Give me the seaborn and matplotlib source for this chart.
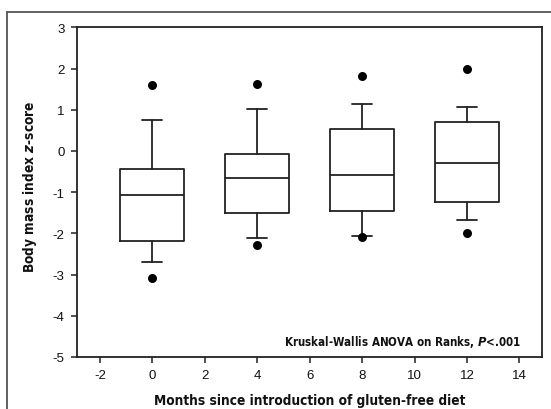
import matplotlib
matplotlib.use("Agg")
import matplotlib.pyplot as plt
from matplotlib.lines import Line2D
from matplotlib import font_manager
from matplotlib.font_manager import FontProperties
import seaborn as sns
import pandas as pd

# ---- data ----
months = [0, 4, 8, 12]
whisker_low = [-2.70, -2.12, -2.06, -1.68]
q1 = [-2.19, -1.51, -1.45, -1.25]
median = [-1.07, -0.66, -0.585, -0.30]
q3 = [-0.447, -0.075, 0.53, 0.70]
whisker_high = [0.757, 1.02, 1.13, 1.07]
outlier_low = [-3.085, -2.28, -2.08, -1.99]
outlier_high = [1.60, 1.62, 1.83, 2.00]

x_ticks = [-2, 0, 2, 4, 6, 8, 10, 12, 14]
y_ticks = [-5, -4, -3, -2, -1, 0, 1, 2, 3]

sns.set_style("white")
plt.rcParams["font.family"] = ["Liberation Sans", "DejaVu Sans"]
plt.rcParams["mathtext.fontset"] = "custom"
plt.rcParams["mathtext.bfit"] = "DejaVu Sans:italic:bold"
plt.rcParams["mathtext.it"] = "DejaVu Sans:italic:bold"
plt.rcParams["mathtext.rm"] = "DejaVu Sans:bold"

files = [f.fname for f in font_manager.fontManager.ttflist]


def pick(keys, italic):
    out = []
    for fn in files:
        low = fn.lower().replace("-", "").replace("_", "")
        if all(k in low for k in keys) and (("italic" in low or "oblique" in low) == italic):
            out.append(fn)
    return sorted(out)[0] if out else None


cond = pick(["liberationsansnarrow", "bold"], False) or pick(["condensed", "bold"], False)
if cond:
    lab_fp = FontProperties(fname=cond, size=9.8)
    ann_fp = FontProperties(fname=cond, size=8.3)
else:
    lab_fp = FontProperties(family="Liberation Sans", weight="bold", size=9.0)
    ann_fp = FontProperties(family="Liberation Sans", weight="bold", size=7.8)

fig = plt.figure(figsize=(5.51, 4.10), dpi=100)
ax = fig.add_axes([77 / 551, (410 - 358) / 410, (541.5 - 77) / 551, (358 - 28.3) / 410])

stats = []
for i in range(len(months)):
    stats.append(dict(med=median[i], q1=q1[i], q3=q3[i],
                      whislo=whisker_low[i], whishi=whisker_high[i], fliers=[]))

lc = "#222222"
ax.bxp(stats, positions=months, widths=2.44, capwidths=0.75, showfliers=False,
       boxprops=dict(color=lc, linewidth=1.3),
       whiskerprops=dict(color=lc, linewidth=1.3),
       capprops=dict(color=lc, linewidth=1.3),
       medianprops=dict(color=lc, linewidth=1.3),
       manage_ticks=False)

df = pd.DataFrame({"month": months * 2, "z": outlier_low + outlier_high})
sns.scatterplot(data=df, x="month", y="z", color="black", s=42, edgecolor="black",
                linewidth=0, ax=ax, zorder=5)

ax.set_xlim(-2.87, 14.84)
ax.set_ylim(-5, 3)
ax.set_xticks(x_ticks)
ax.set_yticks(y_ticks)
ax.set_xticklabels([str(t) for t in x_ticks])
ax.set_yticklabels([str(t) for t in y_ticks])
ax.tick_params(axis="both", which="both", direction="out", length=4, width=1.1,
               color=lc, labelsize=9.5, labelcolor="#111111",
               bottom=True, left=True, top=False, right=False, pad=5)
for s in ax.spines.values():
    s.set_color(lc)
    s.set_linewidth(1.3)

ax.set_xlabel("Months since introduction of gluten-free diet", fontproperties=lab_fp,
              color="#111111", labelpad=8)
ax.set_ylabel(r"Body mass index $\mathbfit{z}$-score", fontproperties=lab_fp,
              color="#111111")
ax.yaxis.set_label_coords(-0.082, 0.52)

ax.text(14.05, -4.6, r"Kruskal-Wallis ANOVA on Ranks, $\mathbfit{P}$<.001", ha="right",
        va="center", fontproperties=ann_fp, color="#111111")

fc = "#555555"
fig.add_artist(Line2D([7 / 551, 1.0], [1 - 13 / 410] * 2, transform=fig.transFigure,
                      color=fc, linewidth=1.3))
fig.add_artist(Line2D([7 / 551] * 2, [0.0, 1 - 13 / 410], transform=fig.transFigure,
                      color=fc, linewidth=1.3))

fig.savefig("out.png", dpi=100)
